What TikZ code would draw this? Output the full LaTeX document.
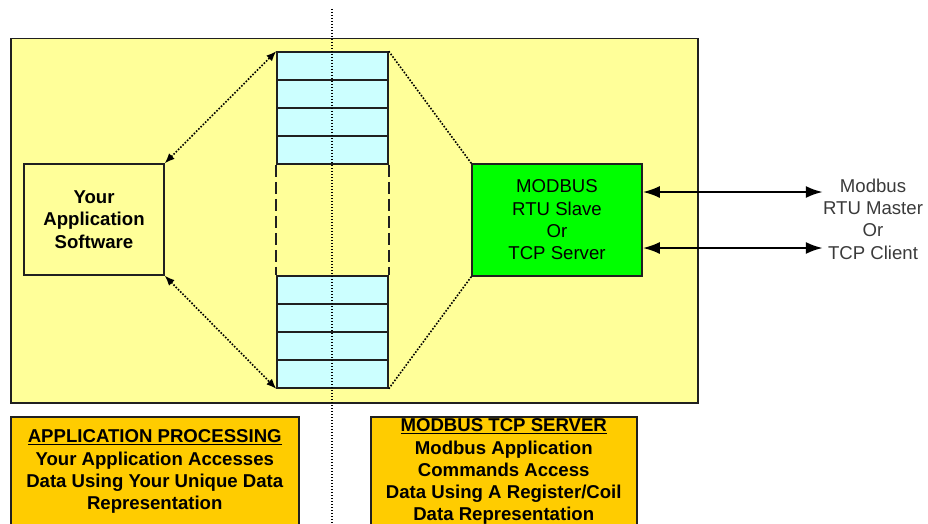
\documentclass[tikz,border=0pt]{standalone}
\usepackage{fontspec}
\setmainfont{Liberation Sans}
\usetikzlibrary{arrows.meta}
\definecolor{panel}{HTML}{FFFF99}
\definecolor{reg}{HTML}{CCFFFF}
\definecolor{srv}{HTML}{00FF00}
\definecolor{note}{HTML}{FFCC00}
\definecolor{ink}{HTML}{202020}
\definecolor{greytext}{HTML}{3A3A3A}
\begin{document}
\begin{tikzpicture}[x=1pt,y=-1pt,
  every node/.style={font=\fontsize{18.6}{22.3}\selectfont, inner sep=0pt, align=center},
  boxline/.style={draw=ink, line width=1.5pt},
  panelbox/.style={boxline, fill=panel, anchor=north west, minimum width=687pt, minimum height=364pt},
  regrow/.style={boxline, fill=reg, minimum width=111pt, minimum height=28pt},
  appbox/.style={boxline, fill=panel, minimum width=140pt, minimum height=111pt, font=\fontsize{18.6}{22.3}\selectfont\bfseries},
  srvbox/.style={boxline, fill=srv, minimum width=170pt, minimum height=112pt},
  notebox/.style={boxline, fill=note, anchor=north west, minimum height=110pt, font=\fontsize{18.6}{22.3}\selectfont\bfseries},
  gapline/.style={draw=ink, line width=1.8pt, dash pattern=on 12pt off 5pt},
  dotline/.style={draw=black, line width=1.6pt, dash pattern=on 1.6pt off 1.6pt},
  dotarrow/.style={dotline, {Latex[length=10pt,width=8pt]}-{Latex[length=10pt,width=8pt]}},
  linkarrow/.style={draw=black, line width=2.4pt, {Latex[length=17pt,width=12pt]}-{Latex[length=17pt,width=12pt]}},
  axis/.style={draw=black, line width=1.2pt, dash pattern=on 1.2pt off 1.8pt}
]
\useasboundingbox (0,0) rectangle (928,524);
\clip (0,0) rectangle (928,524);

% main yellow panel
\node[panelbox] (panel) at (10,38) {};

% register table, upper block
\node[regrow] (t1) at (332.5,66) {};
\node[regrow] (t2) at (332.5,94) {};
\node[regrow] (t3) at (332.5,122) {};
\node[regrow] (t4) at (332.5,150) {};
% register table, lower block
\node[regrow] (b1) at (332.5,290) {};
\node[regrow] (b2) at (332.5,318) {};
\node[regrow] (b3) at (332.5,346) {};
\node[regrow] (b4) at (332.5,374) {};
% elided rows between the blocks
\draw[gapline] (t4.south west) -- (b1.north west);
\draw[gapline] (t4.south east) -- (b1.north east);

% application and server blocks
\node[appbox] (app) at (94,219.5) {Your\\Application\\Software};
\node[srvbox] (server) at (557,220) {MODBUS\\RTU Slave\\Or\\TCP Server};

% access paths
\draw[dotarrow] (app.north east) -- (t1.north west);
\draw[dotarrow] (app.south east) -- (b4.south west);
\draw[dotline] (t1.north east) -- (server.north west);
\draw[dotline] (b4.south east) -- (server.south west);

% remote master / client
\node[text=greytext] (master) at (873,219) {Modbus\\RTU Master\\Or\\TCP Client};
\draw[linkarrow] (server.east |- 0,192) -- (master.west |- 0,192);
\draw[linkarrow] (server.east |- 0,248) -- (master.west |- 0,248);

% explanatory notes
\node[notebox, minimum width=288pt] (appnote) at (10,416)
  {\underline{APPLICATION PROCESSING}\\Your Application Accesses\\Data Using Your Unique Data\\Representation};
\node[notebox, minimum width=266pt] (srvnote) at (370,416)
  {\underline{MODBUS TCP SERVER}\\Modbus Application\\Commands Access\\Data Using A Register/Coil\\Data Representation};

% dividing line between the two domains
\coordinate (axtop) at (332,9);
\coordinate (axbot) at (332,524);
\draw[axis] (axtop) -- (axbot);
\end{tikzpicture}
\end{document}
